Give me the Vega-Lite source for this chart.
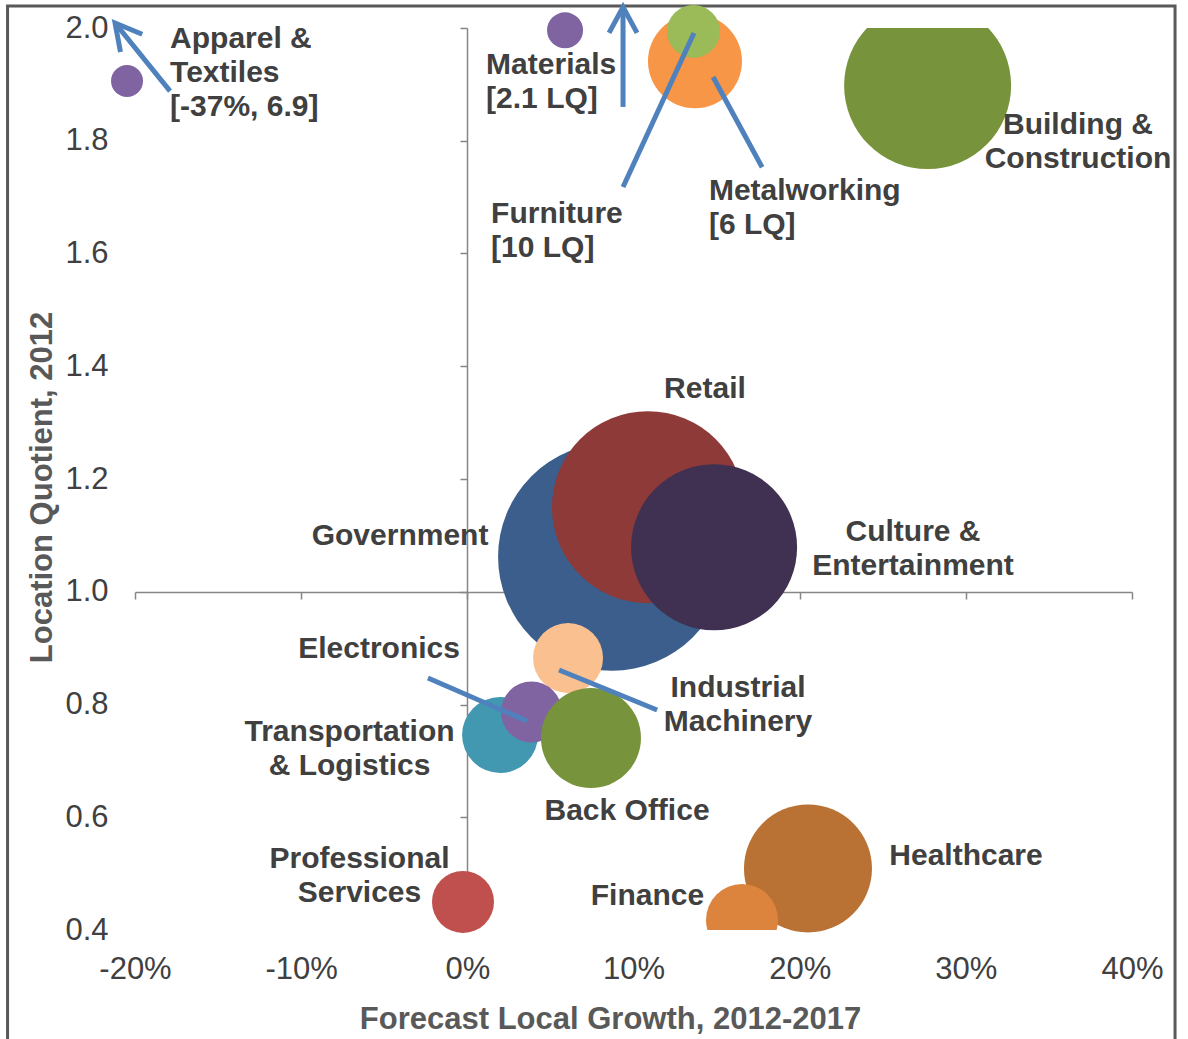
{
  "$schema": "https://vega.github.io/schema/vega-lite/v6.json",
  "width": 997,
  "height": 902,
  "autosize": {"type": "none"},
  "padding": {"left": 135, "top": 28, "right": 56, "bottom": 109},
  "background": "white",
  "config": {"view": {"stroke": null}, "font": "Liberation Sans"},
  "datasets": {
    "industries": [
      {"name": "Government", "growth": 0.0871, "lq": 1.062, "employment": 12996, "label": ["Government"], "lx": -0.0405, "ly": 1.099},
      {"name": "Retail", "growth": 0.1087, "lq": 1.150, "employment": 9216, "label": ["Retail"], "lx": 0.1430, "ly": 1.360},
      {"name": "Culture & Entertainment", "growth": 0.1485, "lq": 1.079, "employment": 6889, "label": ["Culture &", "Entertainment"], "lx": 0.2682, "ly": 1.106},
      {"name": "Industrial Machinery", "growth": 0.0606, "lq": 0.8825, "employment": 1225, "label": ["Industrial", "Machinery"], "lx": 0.1629, "ly": 0.8293},
      {"name": "Transportation & Logistics", "growth": 0.0197, "lq": 0.7459, "employment": 1444, "label": ["Transportation", "& Logistics"], "lx": -0.0709, "ly": 0.7512},
      {"name": "Electronics", "growth": 0.0386, "lq": 0.7867, "employment": 930, "label": ["Electronics"], "lx": -0.0531, "ly": 0.8985},
      {"name": "Back Office", "growth": 0.0744, "lq": 0.7406, "employment": 2500, "label": ["Back Office"], "lx": 0.0961, "ly": 0.6111},
      {"name": "Professional Services", "growth": -0.0026, "lq": 0.4497, "employment": 961, "label": ["Professional", "Services"], "lx": -0.0649, "ly": 0.5259},
      {"name": "Healthcare", "growth": 0.2050, "lq": 0.5091, "employment": 4096, "label": ["Healthcare"], "lx": 0.3001, "ly": 0.5312},
      {"name": "Metalworking", "growth": 0.1370, "lq": 1.941, "employment": 2209, "label": ["Metalworking", "[6 LQ]"], "lx": 0.1454, "ly": 1.711},
      {"name": "Furniture", "growth": 0.1361, "lq": 1.994, "employment": 702, "label": ["Furniture", "[10 LQ]"], "lx": 0.0143, "ly": 1.670},
      {"name": "Materials", "growth": 0.0588, "lq": 1.996, "employment": 324, "label": ["Materials", "[2.1 LQ]"], "lx": 0.0113, "ly": 1.9344},
      {"name": "Apparel & Textiles", "growth": -0.2048, "lq": 1.906, "employment": 256, "label": ["Apparel &", "Textiles", "[-37%, 6.9]"], "lx": -0.1789, "ly": 1.9805},
      {"name": "Building & Construction", "growth": 0.2770, "lq": 1.898, "employment": 6972, "label": ["Building &", "Construction"], "lx": 0.3675, "ly": 1.828},
      {"name": "Finance", "growth": 0.1653, "lq": 0.4178, "employment": 1296, "label": ["Finance"], "lx": 0.1084, "ly": 0.4603}
    ],
    "callouts": [
      {"name": "Apparel & Textiles", "x1": -0.1789, "y1": 1.888, "x2": -0.2120, "y2": 2.0089},
      {"name": "Materials", "x1": 0.0937, "y1": 1.860, "x2": 0.0937, "y2": 2.0373},
      {"name": "Furniture", "x1": 0.0937, "y1": 1.718, "x2": 0.1364, "y2": 1.991},
      {"name": "Metalworking", "x1": 0.1479, "y1": 1.913, "x2": 0.1774, "y2": 1.753},
      {"name": "Electronics", "x1": -0.0237, "y1": 0.847, "x2": 0.0359, "y2": 0.7707},
      {"name": "Industrial Machinery", "x1": 0.0552, "y1": 0.8612, "x2": 0.1142, "y2": 0.7902}
    ]
  },
  "resolve": {"axis": {"x": "independent", "y": "independent"}},
  "layer": [
    {
      "data": {"values": [{}]},
      "mark": {"type": "rect", "filled": false, "stroke": "#595959", "strokeWidth": 3, "clip": false},
      "encoding": {
        "x": {"datum": -0.2767, "type": "quantitative", "scale": {"domain": [-0.2, 0.4], "nice": false, "zero": false}, "axis": null},
        "x2": {"datum": 0.4259},
        "y": {"datum": 2.039, "type": "quantitative", "scale": {"domain": [0.4, 2.0], "nice": false, "zero": false}, "axis": null},
        "y2": {"datum": 0.19}
      }
    },
    {
      "data": {"name": "industries"},
      "transform": [{"filter": {"not": {"field": "name", "oneOf": ["Building & Construction", "Finance"]}}}],
      "mark": {"type": "circle", "opacity": 1, "clip": false},
      "encoding": {
        "x": {
          "field": "growth", "type": "quantitative",
          "scale": {"domain": [-0.2, 0.4], "nice": false, "zero": false},
          "axis": {
            "orient": "bottom", "values": [-0.2, -0.1, 0, 0.1, 0.2, 0.3, 0.4], "format": ".0%",
            "labelExpr": "replace(datum.label, '\u2212', '-')",
            "domain": false, "ticks": false, "grid": false, "labelFlush": false,
            "labelFont": "Liberation Sans", "labelFontSize": 31, "labelColor": "#404040", "labelPadding": 24,
            "title": "Forecast Local Growth, 2012-2017", "titleFont": "Liberation Sans", "titleFontSize": 31,
            "titleFontWeight": "bold", "titleColor": "#595959", "titleX": 475, "titleY": 98, "titleBaseline": "alphabetic", "titleAlign": "center"
          }
        },
        "y": {
          "field": "lq", "type": "quantitative",
          "scale": {"domain": [0.4, 2.0], "nice": false, "zero": false},
          "axis": {
            "orient": "left", "values": [0.4, 0.6, 0.8, 1.0, 1.2, 1.4, 1.6, 1.8, 2.0], "format": ".1f",
            "domain": false, "ticks": false, "grid": false,
            "labelFont": "Liberation Sans", "labelFontSize": 31, "labelColor": "#404040", "labelPadding": 27,
            "title": "Location Quotient, 2012", "titleFont": "Liberation Sans", "titleFontSize": 31,
            "titleFontWeight": "bold", "titleColor": "#595959", "titleX": -84, "titleY": 459, "titleAngle": 270, "titleBaseline": "alphabetic", "titleAlign": "center"
          }
        },
        "size": {"field": "employment", "type": "quantitative", "scale": {"domain": [0, 13000], "range": [0, 52000]}, "legend": null},
        "color": {
          "field": "name", "type": "nominal", "legend": null,
          "scale": {
            "domain": ["Government", "Retail", "Culture & Entertainment", "Industrial Machinery", "Transportation & Logistics", "Electronics", "Back Office", "Professional Services", "Healthcare", "Metalworking", "Furniture", "Materials", "Apparel & Textiles", "Building & Construction", "Finance"],
            "range": ["#3B5E8C", "#8E3A38", "#403152", "#FAC08F", "#4298B0", "#8064A2", "#77933C", "#C0504D", "#B97234", "#F79646", "#9BBB59", "#8064A2", "#8064A2", "#77933C", "#DC833E"]
          }
        }
      }
    },
    {
      "data": {"name": "industries"},
      "transform": [{"filter": {"field": "name", "oneOf": ["Building & Construction", "Finance"]}}],
      "mark": {"type": "circle", "opacity": 1, "clip": true},
      "encoding": {
        "x": {"field": "growth", "type": "quantitative", "scale": {"domain": [-0.2, 0.4], "nice": false, "zero": false}, "axis": null},
        "y": {"field": "lq", "type": "quantitative", "scale": {"domain": [0.4, 2.0], "nice": false, "zero": false}, "axis": null},
        "size": {"field": "employment", "type": "quantitative", "scale": {"domain": [0, 13000], "range": [0, 52000]}, "legend": null},
        "color": {
          "field": "name", "type": "nominal", "legend": null,
          "scale": {
            "domain": ["Government", "Retail", "Culture & Entertainment", "Industrial Machinery", "Transportation & Logistics", "Electronics", "Back Office", "Professional Services", "Healthcare", "Metalworking", "Furniture", "Materials", "Apparel & Textiles", "Building & Construction", "Finance"],
            "range": ["#3B5E8C", "#8E3A38", "#403152", "#FAC08F", "#4298B0", "#8064A2", "#77933C", "#C0504D", "#B97234", "#F79646", "#9BBB59", "#8064A2", "#8064A2", "#77933C", "#DC833E"]
          }
        }
      }
    },
    {
      "data": {"name": "callouts"},
      "mark": {"type": "rule", "color": "#4F81BD", "strokeWidth": 5, "strokeCap": "butt", "clip": false},
      "encoding": {
        "x": {
          "field": "x1", "type": "quantitative",
          "scale": {"domain": [-0.2, 0.4], "nice": false, "zero": false},
          "axis": {
            "orient": "bottom", "offset": -338, "values": [-0.2, -0.1, 0, 0.1, 0.2, 0.3, 0.4],
            "labels": false, "title": null, "grid": false,
            "domain": true, "domainColor": "#868686", "domainWidth": 1.5,
            "ticks": true, "tickColor": "#868686", "tickWidth": 1.5, "tickSize": 7
          }
        },
        "y": {
          "field": "y1", "type": "quantitative",
          "scale": {"domain": [0.4, 2.0], "nice": false, "zero": false},
          "axis": {
            "orient": "left", "offset": -332, "values": [0.4, 0.6, 0.8, 1.0, 1.2, 1.4, 1.6, 1.8, 2.0],
            "labels": false, "title": null, "grid": false,
            "domain": true, "domainColor": "#868686", "domainWidth": 1.5,
            "ticks": true, "tickColor": "#868686", "tickWidth": 1.5, "tickSize": 7
          }
        },
        "x2": {"field": "x2"},
        "y2": {"field": "y2"}
      }
    },
    {
      "data": {"name": "callouts"},
      "transform": [{"filter": {"field": "name", "equal": "Materials"}}],
      "mark": {"type": "point", "shape": "M-1,1.85L0,0L1,1.85", "filled": false, "stroke": "#4F81BD", "strokeWidth": 5, "size": 784, "angle": 0, "opacity": 1, "strokeJoin": "miter", "clip": false},
      "encoding": {
        "x": {"field": "x2", "type": "quantitative", "scale": {"domain": [-0.2, 0.4], "nice": false, "zero": false}, "axis": null},
        "y": {"field": "y2", "type": "quantitative", "scale": {"domain": [0.4, 2.0], "nice": false, "zero": false}, "axis": null}
      }
    },
    {
      "data": {"name": "callouts"},
      "transform": [{"filter": {"field": "name", "equal": "Apparel & Textiles"}}],
      "mark": {"type": "point", "shape": "M-1,1.85L0,0L1,1.85", "filled": false, "stroke": "#4F81BD", "strokeWidth": 5, "size": 784, "angle": -39, "opacity": 1, "strokeJoin": "miter", "clip": false},
      "encoding": {
        "x": {"field": "x2", "type": "quantitative", "scale": {"domain": [-0.2, 0.4], "nice": false, "zero": false}, "axis": null},
        "y": {"field": "y2", "type": "quantitative", "scale": {"domain": [0.4, 2.0], "nice": false, "zero": false}, "axis": null}
      }
    },
    {
      "data": {"name": "industries"},
      "transform": [{"filter": {"not": {"field": "name", "oneOf": ["Apparel & Textiles", "Materials", "Furniture", "Metalworking"]}}}],
      "mark": {"type": "text", "font": "Liberation Sans", "fontWeight": "bold", "fontSize": 30, "color": "#404040", "lineHeight": 34, "baseline": "middle", "align": "center", "clip": false},
      "encoding": {
        "x": {"field": "lx", "type": "quantitative", "scale": {"domain": [-0.2, 0.4], "nice": false, "zero": false}, "axis": null},
        "y": {"field": "ly", "type": "quantitative", "scale": {"domain": [0.4, 2.0], "nice": false, "zero": false}, "axis": null},
        "text": {"field": "label", "type": "nominal"}
      }
    },
    {
      "data": {"name": "industries"},
      "transform": [{"filter": {"field": "name", "oneOf": ["Apparel & Textiles", "Materials", "Furniture", "Metalworking"]}}],
      "mark": {"type": "text", "font": "Liberation Sans", "fontWeight": "bold", "fontSize": 30, "color": "#404040", "lineHeight": 34, "baseline": "middle", "align": "left", "clip": false},
      "encoding": {
        "x": {"field": "lx", "type": "quantitative", "scale": {"domain": [-0.2, 0.4], "nice": false, "zero": false}, "axis": null},
        "y": {"field": "ly", "type": "quantitative", "scale": {"domain": [0.4, 2.0], "nice": false, "zero": false}, "axis": null},
        "text": {"field": "label", "type": "nominal"}
      }
    }
  ]
}
